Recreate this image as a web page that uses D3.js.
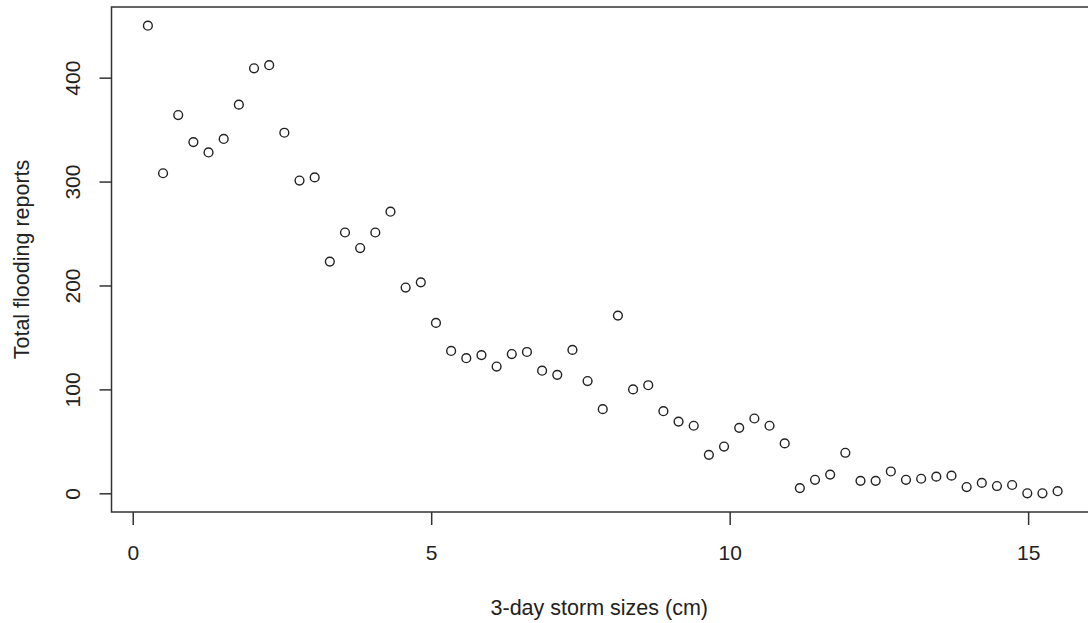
<!DOCTYPE html>
<html lang="en">
  <head>
    <meta charset="UTF-8" />
    <title>Flooding reports vs storm size</title>
    <script src="https://d3js.org/d3.v7.min.js"></script>
    <style>
      body {
        margin: 0;
        padding: 0;
        background: #fff;
      }
      svg {
        display: block;
        font-family: "Liberation Sans", Arial, sans-serif;
      }
    </style>
  </head>
  <body>
    <svg width="1088" height="623"></svg>
    <script>
      // storm size (cm) for each bin
      const stormSizes = [
        0.254, 0.508, 0.762, 1.016, 1.27, 1.524, 1.778, 2.032, 2.286, 2.54,
        2.794, 3.048, 3.302, 3.556, 3.81, 4.064, 4.318, 4.572, 4.826, 5.08,
        5.334, 5.588, 5.842, 6.096, 6.35, 6.604, 6.858, 7.112, 7.366, 7.62,
        7.874, 8.128, 8.382, 8.636, 8.89, 9.144, 9.398, 9.652, 9.906, 10.16,
        10.414, 10.668, 10.922, 11.176, 11.43, 11.684, 11.938, 12.192, 12.446,
        12.7, 12.954, 13.208, 13.462, 13.716, 13.97, 14.224, 14.478, 14.732,
        14.986, 15.24, 15.494,
      ];

      // total flooding reports
      const floodReports = [
        450, 308, 364, 338, 328, 341, 374, 409, 412, 347,
        301, 304, 223, 251, 236, 251, 271, 198, 203, 164,
        137, 130, 133, 122, 134, 136, 118, 114, 138, 108,
        81, 171, 100, 104, 79, 69, 65, 37, 45, 63,
        72, 65, 48, 5, 13, 18, 39, 12, 12, 21,
        13, 14, 16, 17, 6, 10, 7, 8, 0, 0, 2,
      ];

      const xTicks = [0, 5, 10, 15];
      const yTicks = [0, 100, 200, 300, 400];

      const xTitle = "3-day storm sizes (cm)";
      const yTitle = "Total flooding reports";

      const points = stormSizes.map((s, i) => ({ x: s, y: floodReports[i] }));

      // plot region (R style: data range padded by 4%)
      const plotLeft = 111.5,
        plotTop = 7,
        plotBottom = 512,
        plotRight = 1094;

      const pad = (ext) => {
        const d = (ext[1] - ext[0]) * 0.04;
        return [ext[0] - d, ext[1] + d];
      };

      const x = d3
        .scaleLinear()
        .domain(pad(d3.extent(stormSizes)))
        .range([plotLeft, plotRight]);
      const y = d3
        .scaleLinear()
        .domain(pad(d3.extent(floodReports)))
        .range([plotBottom, plotTop]);

      const svg = d3.select("svg");
      const ink = "#222";
      const fontSize = 21;

      // frame
      svg
        .append("rect")
        .attr("x", plotLeft)
        .attr("y", plotTop)
        .attr("width", plotRight - plotLeft)
        .attr("height", plotBottom - plotTop)
        .attr("fill", "none")
        .attr("stroke", "#333")
        .attr("stroke-width", 1.5);

      // x axis
      const gx = svg
        .append("g")
        .attr("transform", `translate(0,${plotBottom})`)
        .call(d3.axisBottom(x).tickValues(xTicks).tickSize(13).tickSizeOuter(0));
      gx.select(".domain").remove();
      gx.selectAll("line").attr("stroke", "#333").attr("stroke-width", 1.5);
      gx.selectAll("text")
        .attr("y", 48)
        .attr("dy", null)
        .attr("fill", ink)
        .attr("font-size", fontSize);
      gx.attr("font-family", null).attr("font-size", null);

      // y axis
      const gy = svg
        .append("g")
        .attr("transform", `translate(${plotLeft},0)`)
        .call(d3.axisLeft(y).tickValues(yTicks).tickSize(12).tickSizeOuter(0));
      gy.select(".domain").remove();
      gy.selectAll("line").attr("stroke", "#333").attr("stroke-width", 1.5);
      gy.selectAll("text")
        .attr("x", null)
        .attr("dy", null)
        .attr("text-anchor", "middle")
        .attr("transform", "translate(-31.5,0) rotate(-90)")
        .attr("fill", ink)
        .attr("font-size", fontSize);
      gy.attr("font-family", null).attr("font-size", null);

      // axis titles
      svg
        .append("text")
        .attr("x", (plotLeft + 1087) / 2)
        .attr("y", 615)
        .attr("text-anchor", "middle")
        .attr("font-size", 21.5)
        .attr("fill", ink)
        .text(xTitle);

      svg
        .append("text")
        .attr("transform", `translate(29,${(plotTop + plotBottom) / 2}) rotate(-90)`)
        .attr("text-anchor", "middle")
        .attr("font-size", 21.5)
        .attr("fill", ink)
        .text(yTitle);

      // points
      svg
        .append("g")
        .selectAll("circle")
        .data(points)
        .join("circle")
        .attr("cx", (d) => x(d.x))
        .attr("cy", (d) => y(d.y))
        .attr("r", 4.4)
        .attr("fill", "none")
        .attr("stroke", ink)
        .attr("stroke-width", 1.4);
    </script>
  </body>
</html>
